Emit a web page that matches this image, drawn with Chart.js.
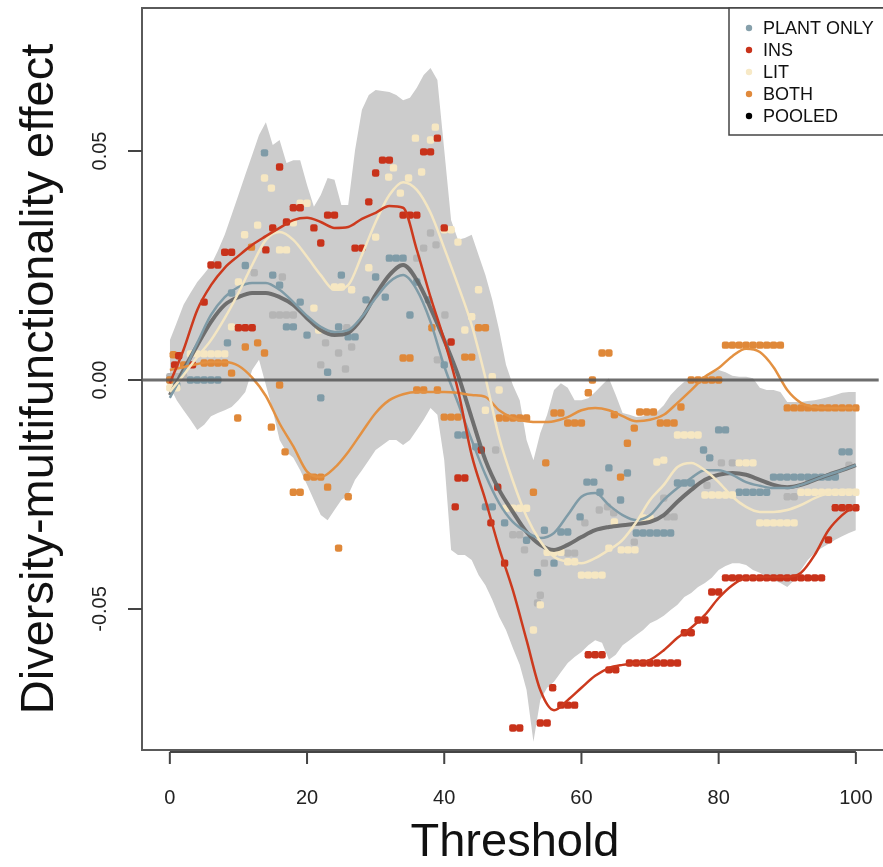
<!DOCTYPE html>
<html>
<head>
<meta charset="utf-8">
<script src="https://cdn.jsdelivr.net/npm/chart.js@4.4.1/dist/chart.umd.min.js"></script>
<style>
  html, body { margin: 0; padding: 0; background: #fff; }
  #wrap { width: 883px; height: 867px; }
</style>
</head>
<body>
<div id="wrap"><canvas id="chart" width="883" height="867"></canvas></div>
<script>
// thresholds for the smoothed curves
const lineT = [0,2,4,6,8,10,12,14,16,18,20,22,24,26,28,30,32,34,36,38,40,42,44,46,48,50,
  52,54,56,58,60,62,64,66,68,70,72,74,76,78,80,82,84,86,88,90,92,94,96,98,100];

const pooledLine = [-0.0033,0.0022,0.0076,0.0127,0.0164,0.0181,0.019,0.019,0.0181,0.0164,0.0135,0.0109,0.0098,0.0103,0.0135,0.0186,0.0229,0.0251,0.0218,0.0157,0.0087,0.0011,-0.0083,-0.0175,-0.024,-0.0288,
  -0.0332,-0.036,-0.0371,-0.036,-0.0343,-0.0328,-0.0321,-0.0317,-0.0314,-0.031,-0.0295,-0.0266,-0.024,-0.0218,-0.0207,-0.0203,-0.0207,-0.0218,-0.0229,-0.0234,-0.0229,-0.0218,-0.0207,-0.0197,-0.0186];
const plantLine = [-0.0039,0.0017,0.0081,0.0142,0.0181,0.0203,0.0212,0.0212,0.0197,0.017,0.014,0.0116,0.0105,0.0109,0.0138,0.0179,0.0214,0.0229,0.0197,0.0127,0.003,-0.005,-0.0131,-0.0207,-0.0269,-0.031,
  -0.0332,-0.0345,-0.0334,-0.0295,-0.0255,-0.0247,-0.0273,-0.0295,-0.0306,-0.0295,-0.0262,-0.0236,-0.0214,-0.0197,-0.0197,-0.0207,-0.0223,-0.0231,-0.0236,-0.0236,-0.0229,-0.0218,-0.0207,-0.0197,-0.0186];
const insLine = [-0.0007,0.0066,0.0153,0.0207,0.0245,0.0271,0.0295,0.0314,0.0332,0.0349,0.0354,0.0345,0.0332,0.0334,0.0352,0.0365,0.038,0.0376,0.0284,0.0181,0.0087,-0.0022,-0.0164,-0.0262,-0.0367,-0.0459,
  -0.0568,-0.0677,-0.0721,-0.0699,-0.0672,-0.0646,-0.0629,-0.0622,-0.0618,-0.0611,-0.059,-0.0563,-0.0541,-0.0513,-0.0476,-0.0448,-0.0432,-0.043,-0.043,-0.043,-0.0421,-0.0382,-0.0328,-0.0295,-0.0273];
const litLine = [-0.0026,0.0011,0.005,0.0087,0.0135,0.019,0.0251,0.0306,0.0323,0.0306,0.0269,0.0229,0.0197,0.0207,0.0273,0.0345,0.0404,0.0432,0.0415,0.0365,0.0288,0.0207,0.012,0.0005,-0.0125,-0.022,
  -0.0298,-0.0352,-0.0386,-0.0397,-0.04,-0.0389,-0.0371,-0.0349,-0.031,-0.0262,-0.0229,-0.019,-0.0181,-0.0197,-0.0223,-0.0255,-0.0277,-0.0288,-0.0288,-0.0284,-0.0273,-0.0258,-0.0247,-0.024,-0.024];
const bothLine = [0.0022,0.0028,0.0035,0.0039,0.0039,0.0031,0.0005,-0.0035,-0.0095,-0.0145,-0.02,-0.0212,-0.0192,-0.0157,-0.0114,-0.0072,-0.0044,-0.0031,-0.0026,-0.0026,-0.0026,-0.0028,-0.0033,-0.0037,-0.0066,-0.0083,
  -0.009,-0.0092,-0.009,-0.0081,-0.0066,-0.0061,-0.0066,-0.0079,-0.009,-0.0087,-0.0076,-0.005,-0.0022,0.0007,0.0026,0.0052,0.0068,0.0061,0.0028,-0.0022,-0.005,-0.0059,-0.0061,-0.0061,-0.0061];

// grey envelope
const bandT = [0,1,2,3,4,5,6,7,8,9,10,11,12,13,14,15,16,17,18,19,20,21,22,23,24,25,26,27,28,29,30,31,32,33,34,35,36,37,38,39,40,41,42,43,44,45,46,47,48,49,50,
  51,52,53,54,55,56,57,58,59,60,61,62,63,64,65,66,67,68,69,70,71,72,73,74,75,76,77,78,79,80,81,82,83,84,85,86,87,88,89,90,91,92,93,94,95,96,97,98,99,100];
const bandHi = [0.0087,0.0125,0.0164,0.019,0.0214,0.0232,0.0251,0.0282,0.0317,0.036,0.0404,0.0448,0.0491,0.0535,0.0563,0.0513,0.0524,0.0474,0.048,0.048,0.0426,0.0378,0.0404,0.0441,0.0437,0.0382,0.0382,0.0502,0.059,0.0622,0.0633,0.0631,0.0629,0.0622,0.0611,0.0616,0.0638,0.0666,0.0681,0.0655,0.0502,
  0.0349,0.0306,0.031,0.0317,0.0273,0.0229,0.0175,0.0109,0.0033,-0.0011,-0.0044,-0.0131,-0.0175,-0.0116,-0.0076,-0.0022,-0.0007,-0.0017,-0.0044,-0.0044,-0.004,-0.0026,-0.0011,0.0004,-0.0033,-0.0072,-0.0076,-0.0081,-0.0079,-0.0074,
  -0.007,-0.0055,-0.0033,-0.0017,-0.0004,0,0.0004,0.0009,0.0017,0.0022,0.0017,0.0009,0.0007,0.0007,0.0004,-0.0017,-0.0022,-0.0022,-0.0026,-0.0048,-0.0048,-0.0048,-0.0046,-0.0044,-0.0041,-0.0037,-0.0033,-0.0028,-0.0026,-0.0026];
const bandLo = [-0.0015,-0.0044,-0.0066,-0.0087,-0.0109,-0.0098,-0.0079,-0.0072,-0.0066,-0.0059,-0.0044,-0.0026,0.0022,0.0044,-0.0011,-0.0066,-0.0131,-0.0157,-0.017,-0.0197,-0.0229,-0.0262,-0.0295,-0.0306,-0.0284,-0.0262,-0.0251,-0.0218,-0.0197,-0.0175,-0.0153,-0.0142,-0.0131,-0.0131,-0.0142,-0.0131,-0.0109,-0.0087,-0.0061,-0.0076,-0.0175,
  -0.0371,-0.0382,-0.0382,-0.0393,-0.0426,-0.0448,-0.048,-0.0517,-0.0546,-0.0585,-0.0622,-0.0677,-0.079,-0.0699,-0.0672,-0.0659,-0.0638,-0.0618,-0.0605,-0.0594,-0.0579,-0.0568,-0.0574,-0.0611,-0.06,-0.0579,-0.0568,-0.0557,-0.0546,-0.0531,
  -0.0524,-0.0515,-0.0502,-0.0491,-0.0474,-0.0465,-0.0452,-0.0443,-0.0432,-0.0415,-0.0406,-0.04,-0.04,-0.0404,-0.0415,-0.0421,-0.043,-0.0437,-0.0443,-0.0452,-0.0437,-0.0415,-0.0393,-0.0378,-0.0367,-0.0358,-0.0349,-0.0341,-0.0334,-0.0328];

// raw points per group
const insPtT = [0.7,1.3,3.3,5,6,7,8,9,10,11,12,14,15,16,17,18,19,21,22,23,24,27,28,29,30,31,32,34,35,36,37,38,39,40,41,41.6,42,43,45.4,46.8,47.8,48.8,50,51,54,55,55.8,57,58,59,61,62,63,64,65,
  67,68,69,70,71,72,73,74,75,76,77,78,79,80,81,82,83,84,85,86,87,88,89,90,91,92,93,94,95,96,97,98,99,100];
const insPtV = [0.0033,0.0053,0.0033,0.017,0.0251,0.0251,0.0279,0.0279,0.0114,0.0114,0.0114,0.0284,0.0332,0.0465,0.0345,0.0376,0.0376,0.0332,0.0299,0.036,0.036,0.0288,0.0288,0.0389,0.0452,0.048,0.048,
  0.036,0.036,0.036,0.0498,0.0498,0.0528,0.0332,0.0083,-0.0277,-0.0214,-0.0214,-0.0153,-0.0312,-0.0234,-0.04,-0.076,-0.076,-0.0749,-0.0749,-0.0672,-0.071,-0.071,-0.071,-0.06,-0.06,-0.06,-0.0633,-0.0633,
  -0.0618,-0.0618,-0.0618,-0.0618,-0.0618,-0.0618,-0.0618,-0.0618,-0.0552,-0.0552,-0.0524,-0.0524,-0.0463,-0.0463,
  -0.0432,-0.0432,-0.0432,-0.0432,-0.0432,-0.0432,-0.0432,-0.0432,-0.0432,-0.0432,-0.0432,-0.0432,-0.0432,-0.0432,-0.0432,-0.0349,-0.0279,-0.0279,-0.0279,-0.0279];

const plantPtT = [0,1,3,4,5,6,7,8.4,9,11,13.8,15,16,17,18,19,20,22,23,24.6,25,26,27,28.6,30,31.4,32,33,34,35,36,37.7,40,42,43,44.6,46,47,48.8,52,53.6,54.6,56,57,58,59.8,60.8,61.8,62.7,64,65.7,66.7,
  68,69,70,71,72,73,74,75,76,77.8,78.7,80,81,83,84,85,86,87,88,89,90,91,92,93,94,95,96,97,98,99];
const plantPtV = [0,-0.0011,0,0,0,0,0,0.0081,0.019,0.025,0.0496,0.0229,0.0207,0.0116,0.0116,0.017,0.0098,-0.0039,0.0017,0.0116,0.0229,0.0094,0.0094,0.0175,0.0225,0.0181,0.0266,0.0266,0.0266,0.0142,0.0214,0.0175,
  0.0033,-0.012,-0.012,-0.0146,-0.0277,-0.0277,-0.0312,-0.035,-0.0421,-0.0328,-0.04,-0.0332,-0.0332,-0.0299,-0.0223,-0.0223,-0.0245,-0.0192,-0.0262,-0.0203,
  -0.0334,-0.0334,-0.0334,-0.0334,-0.0334,-0.0334,-0.0225,-0.0225,-0.0225,-0.0153,-0.017,-0.0109,-0.0109,-0.0245,-0.0245,-0.0245,-0.0245,-0.0245,
  -0.0212,-0.0212,-0.0212,-0.0212,-0.0212,-0.0212,-0.0212,-0.0212,-0.0212,-0.0212,-0.0157,-0.0157];

const litPtT = [0,1,3,4,5,6,7,8,9,10,10.9,12.8,13.8,14.8,16,17,18,19,20,21,21.7,24,25,26.5,29,30,31.9,32.6,33.6,34.8,35.8,36.7,38,38.7,40,41,42,43,44,45,46,47,48,49,50,51,52,53,54,55,56,57,58,59,
  60,61,62,63,64,64.8,65.8,66.8,67.8,69,70,71,72,74,75,76,77,78,79,80,81,82,83,84,85,86,87,88,89,90,91,92,93,94,95,96,97,98,99,100];
const litPtV = [-0.0017,-0.0017,0.0057,0.0057,0.0057,0.0057,0.0057,0.0057,0.0116,0.0214,0.0317,0.0338,0.0441,0.0419,0.0284,0.0284,0.0343,0.0386,0.0386,0.0157,0.0109,0.0203,0.0203,0.0197,0.0245,0.0312,
  0.0443,0.0463,0.0408,0.0441,0.0528,0.0454,0.0524,0.0552,0.0328,0.0328,0.0301,0.0109,0.0138,0.0197,-0.0066,0.0007,-0.0022,-0.028,-0.028,-0.028,-0.028,-0.0546,-0.0491,-0.0376,-0.0376,-0.0376,-0.0397,-0.0397,
  -0.0426,-0.0426,-0.0426,-0.0426,-0.0367,-0.031,-0.0371,-0.0371,-0.0371,-0.0301,-0.0301,-0.0179,-0.0175,-0.012,-0.012,-0.012,-0.012,-0.0251,-0.0251,-0.0251,-0.0251,-0.0251,-0.0181,-0.0181,-0.0181,
  -0.0312,-0.0312,-0.0312,-0.0312,-0.0312,-0.0312,-0.0245,-0.0245,-0.0245,-0.0245,-0.0245,-0.0245,-0.0245,-0.0245,-0.0245];

const bothPtT = [0,0.5,2,5,6,7,8,9,9.9,11,11.9,12.8,13.8,14.8,16,16.8,18,19,20,21,22,23,24.6,26,34,35,36,37,38.2,39,40,41,42,43,44,45,46,48,49,50,51,52,53,54.8,56,57,58,59,60,61,61.6,63,64,64.8,65.7,66.7,67.7,
  68.5,69.5,70.5,71.5,72.5,73.5,74.5,76,77,78,79,80,81,82,83,84,85,86,87,88,89,90,91,92,93,94,95,96,97,98,99,100];
const bothPtV = [0,0.0055,0.0033,0.0037,0.0037,0.0037,0.0037,0.0015,-0.0083,0.0072,0.029,0.0081,0.0059,-0.0103,-0.0011,-0.0157,-0.0245,-0.0245,-0.0212,-0.0212,-0.0212,-0.0234,-0.0367,-0.0255,
  0.0048,0.0048,-0.0022,-0.0022,0.0114,-0.0022,-0.0081,-0.0081,-0.0081,0.005,0.005,0.0114,0.0114,-0.0083,-0.0083,-0.0083,-0.0083,-0.0083,-0.0245,-0.0181,-0.0072,-0.0072,-0.0094,-0.0094,-0.0094,
  -0.0028,0,0.0059,0.0059,-0.0076,-0.0212,-0.0138,-0.0105,-0.007,-0.007,-0.007,-0.0094,-0.0094,-0.0094,-0.0059,0,0,0,0,0,
  0.0076,0.0076,0.0076,0.0076,0.0076,0.0076,0.0076,0.0076,0.0076,-0.0061,-0.0061,-0.0061,-0.0061,-0.0061,-0.0061,-0.0061,-0.0061,-0.0061,-0.0061,-0.0061];

const poolPtT = [0,1,2,12.3,15,16,16.4,17,18,22,22.7,24.6,25.6,25.8,26.5,36,37,38,38.8,39,40.1,47.5,50,51,51.7,53.6,54,54.6,58,59,60.5,62.6,63.8,64.7,67.7,72,72.5,73.5,78.3,80.4,82,83,90,91,99];
const poolPtV = [0.0007,0.0007,0.0007,0.0234,0.0142,0.0142,0.0225,0.0142,0.0142,0.0033,0.0081,0.0059,0.0024,0.0114,0.0072,0.0266,0.0288,0.0321,0.0295,0.0044,0.0142,-0.0153,-0.0338,-0.0338,-0.0371,
  -0.0487,-0.047,-0.04,-0.0378,-0.0378,-0.0312,-0.0284,-0.0277,-0.029,-0.0354,-0.0258,-0.0299,-0.0299,-0.023,-0.0181,-0.0181,-0.0181,-0.0255,-0.0255,-0.0186];

const legendNames = ['PLANT ONLY', 'INS', 'LIT', 'BOTH', 'POOLED'];
const legendColors = ['#86a0ab', '#c8321a', '#f7e9c6', '#e0893b', '#000000'];
const xTicks = [0, 20, 40, 60, 80, 100];
const yTicks = [0.05, 0, -0.05];
const yTickLabels = ['0.05', '0.00', '-0.05'];

const xy = (ts, vs) => ts.map((t, i) => ({ x: t, y: vs[i] }));

function pts(label, t, v, color, order) {
  return {
    label, data: xy(t, v), showLine: false, order,
    pointStyle: 'rectRounded', pointRadius: 4.3, pointHoverRadius: 4.3,
    pointBackgroundColor: color, pointBorderWidth: 0
  };
}
function curve(label, v, color, width, order) {
  return {
    label, data: xy(lineT, v), order, borderColor: color, borderWidth: width,
    pointRadius: 0, cubicInterpolationMode: 'monotone', fill: false
  };
}

const FONT = '"Liberation Sans", Arial, sans-serif';

const frame = {
  id: 'frame',
  afterDatasetsDraw(chart) {
    const { ctx, chartArea: a, scales: { x, y } } = chart;
    ctx.save();

    // zero line
    const y0 = y.getPixelForValue(0);
    ctx.strokeStyle = 'rgba(85,85,85,0.85)';
    ctx.lineWidth = 3;
    ctx.beginPath(); ctx.moveTo(a.left, y0); ctx.lineTo(a.right, y0); ctx.stroke();

    // box
    ctx.strokeStyle = '#5a5a5a';
    ctx.lineWidth = 2;
    ctx.beginPath();
    ctx.moveTo(a.right + 5, a.top); ctx.lineTo(a.left, a.top);
    ctx.lineTo(a.left, a.bottom); ctx.lineTo(a.right + 5, a.bottom);
    ctx.stroke();

    // x axis
    const xb = a.bottom + 2;
    ctx.strokeStyle = '#444';
    ctx.lineWidth = 2;
    ctx.beginPath();
    ctx.moveTo(x.getPixelForValue(0), xb); ctx.lineTo(x.getPixelForValue(100), xb);
    xTicks.forEach(t => {
      const px = x.getPixelForValue(t);
      ctx.moveTo(px, xb); ctx.lineTo(px, xb + 12);
    });
    ctx.stroke();
    ctx.fillStyle = '#222';
    ctx.font = '20px ' + FONT;
    ctx.textAlign = 'center';
    ctx.textBaseline = 'middle';
    xTicks.forEach(t => ctx.fillText(String(t), x.getPixelForValue(t), 798));

    // y axis ticks
    ctx.beginPath();
    yTicks.forEach(v => {
      const py = y.getPixelForValue(v);
      ctx.moveTo(a.left, py); ctx.lineTo(a.left - 14, py);
    });
    ctx.stroke();
    yTicks.forEach((v, i) => {
      ctx.save();
      ctx.translate(100, y.getPixelForValue(v));
      ctx.rotate(-Math.PI / 2);
      ctx.fillText(yTickLabels[i], 0, 0);
      ctx.restore();
    });

    // titles
    ctx.fillStyle = '#111';
    ctx.font = '47px ' + FONT;
    ctx.fillText('Threshold', 515, 843);
    ctx.save();
    ctx.translate(40, 379);
    ctx.rotate(-Math.PI / 2);
    ctx.fillText('Diversity-multifunctionality effect', 0, 0);
    ctx.restore();

    // legend
    ctx.fillStyle = '#fff';
    ctx.fillRect(729, 8, 160, 127);
    ctx.strokeStyle = '#444';
    ctx.lineWidth = 1.5;
    ctx.strokeRect(729, 8, 160, 127);
    ctx.font = '18px ' + FONT;
    ctx.textAlign = 'left';
    legendNames.forEach((n, i) => {
      const ly = 28 + i * 22;
      ctx.fillStyle = legendColors[i];
      ctx.beginPath(); ctx.arc(749, ly, 3.2, 0, Math.PI * 2); ctx.fill();
      ctx.fillStyle = '#111';
      ctx.fillText(n, 763, ly + 1);
    });
    ctx.restore();
  }
};

new Chart(document.getElementById('chart'), {
  type: 'line',
  data: {
    datasets: [
      { label: 'lo', data: xy(bandT, bandLo), borderWidth: 0, pointRadius: 0, fill: false, order: 100, tension: 0 },
      { label: 'hi', data: xy(bandT, bandHi), borderWidth: 0, pointRadius: 0, fill: '-1', backgroundColor: '#cccccc', order: 100, tension: 0 },
      pts('POOLED pts', poolPtT, poolPtV, '#b5b5b5', 60),
      pts('PLANT ONLY pts', plantPtT, plantPtV, '#7f9ba7', 58),
      pts('LIT pts', litPtT, litPtV, '#f6e7c2', 56),
      pts('BOTH pts', bothPtT, bothPtV, '#df8839', 54),
      pts('INS pts', insPtT, insPtV, '#c8321a', 52),
      curve('POOLED', pooledLine, 'rgba(100,100,100,0.9)', 4, 20),
      curve('PLANT ONLY', plantLine, '#7f9ba7', 2.5, 18),
      curve('BOTH', bothLine, '#e39142', 2.5, 16),
      curve('LIT', litLine, '#f4e6c2', 2.5, 14),
      curve('INS', insLine, '#cc3a1e', 2.5, 12)
    ]
  },
  options: {
    responsive: false,
    devicePixelRatio: 1,
    animation: false,
    layout: { padding: { left: 142, top: 8, right: 0, bottom: 117 } },
    scales: {
      x: { type: 'linear', min: -4.058, max: 103.33, display: false },
      y: { type: 'linear', min: -0.08079, max: 0.08122, display: false }
    },
    plugins: {
      legend: { display: false },
      tooltip: { enabled: false }
    }
  },
  plugins: [frame]
});
</script>
</body>
</html>
